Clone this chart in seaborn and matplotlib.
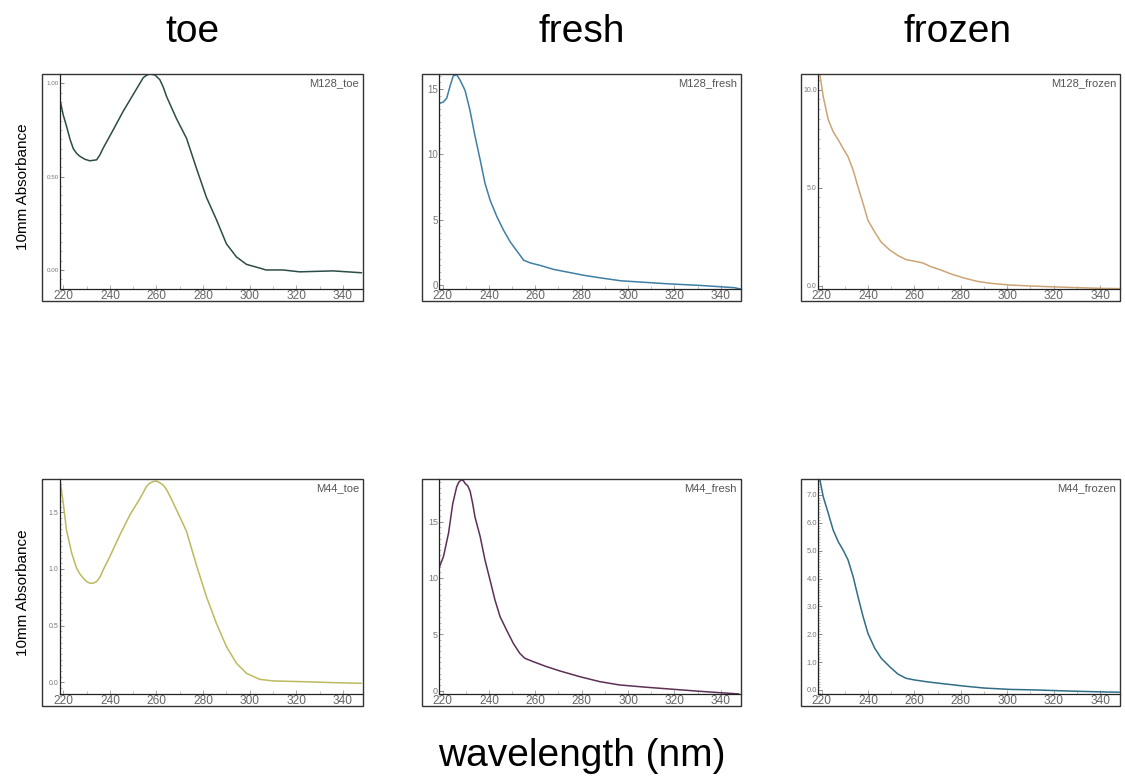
import numpy as np
import pandas as pd
import matplotlib
matplotlib.use('Agg')
import matplotlib.pyplot as plt
import seaborn as sns
from matplotlib.patches import Rectangle
from matplotlib.ticker import MultipleLocator, FormatStrFormatter

# --- data (wavelength nm, 10mm absorbance) ---

wl_m128_toe = [218.6, 220.0, 221.4, 222.9, 224.3, 225.7, 227.0, 229.3, 231.4, 234.3, 235.7, 237.0,
               241.4, 245.7, 250.0, 254.3, 255.7, 257.0, 259.3, 261.4, 262.9, 264.3, 268.6, 272.9,
               277.0, 281.4, 285.7, 290.0, 294.3, 298.6, 304.3, 307.0, 314.3, 321.4, 335.7, 348.0]
ab_m128_toe = [0.91, 0.83, 0.77, 0.70, 0.65, 0.625, 0.61, 0.593, 0.585, 0.59, 0.616, 0.65,
               0.75, 0.85, 0.94, 1.03, 1.043, 1.05, 1.045, 1.02, 0.98, 0.93, 0.81, 0.705,
               0.55, 0.39, 0.27, 0.14, 0.07, 0.03, 0.01, 0.0, 0.0, -0.01, -0.005, -0.015]

wl_m128_fresh = [218.6, 220.3, 221.8, 223.2, 224.6, 226.1, 227.5, 229.7, 231.8, 234.0, 236.2, 238.3,
                 240.5, 243.4, 246.3, 249.2, 252.1, 255.0, 257.8, 262.2, 267.9, 273.7, 280.9, 288.1,
                 296.8, 305.5, 317.0, 331.5, 345.9, 348.6]
ab_m128_fresh = [13.9, 14.0, 14.3, 15.2, 16.0, 16.1, 15.7, 14.9, 13.4, 11.4, 9.6, 7.8,
                 6.5, 5.25, 4.2, 3.3, 2.6, 1.9, 1.7, 1.5, 1.2, 1.0, 0.75, 0.55,
                 0.33, 0.23, 0.1, -0.03, -0.2, -0.3]

wl_m128_frozen = [219.3, 220.7, 222.9, 225.0, 227.2, 229.3, 231.4, 233.6, 235.7, 237.9, 240.0, 242.9,
                  245.7, 249.3, 252.9, 256.4, 260.0, 263.6, 267.1, 271.4, 275.7, 281.4, 287.1, 292.9,
                  301.4, 312.9, 327.1, 341.4, 348.3]
ab_m128_frozen = [10.77, 9.66, 8.46, 7.86, 7.44, 7.0, 6.58, 5.9, 5.04, 4.19, 3.33, 2.74,
                  2.22, 1.83, 1.54, 1.33, 1.25, 1.16, 0.97, 0.8, 0.6, 0.39, 0.22, 0.12,
                  0.03, -0.03, -0.09, -0.14, -0.15]

wl_m44_toe = [218.6, 220.0, 221.4, 223.6, 225.7, 227.1, 228.6, 230.0, 231.4, 232.9, 234.3, 235.7,
              237.1, 240.0, 244.3, 248.6, 252.9, 255.7, 257.1, 258.6, 260.0, 261.4, 262.9, 264.3,
              266.4, 268.6, 272.9, 277.1, 281.4, 285.7, 290.0, 294.3, 298.6, 304.3, 310.0, 321.4,
              335.7, 347.9]
ab_m44_toe = [1.785, 1.58, 1.34, 1.14, 1.006, 0.956, 0.918, 0.888, 0.874, 0.874, 0.888, 0.926,
              0.99, 1.109, 1.3, 1.476, 1.62, 1.726, 1.756, 1.77, 1.774, 1.76, 1.738, 1.7,
              1.615, 1.52, 1.33, 1.035, 0.756, 0.52, 0.315, 0.168, 0.079, 0.026, 0.012, 0.006,
              -0.003, -0.009]

wl_m44_fresh = [218.7, 220.4, 222.6, 224.4, 226.1, 227.0, 228.0, 229.0, 229.7, 230.9, 231.9, 233.0,
                234.0, 236.2, 238.3, 240.5, 242.6, 244.8, 247.6, 250.5, 253.3, 255.5, 259.1, 264.8,
                270.5, 279.1, 287.7, 296.3, 307.7, 319.2, 330.7, 339.2, 347.8]
ab_m44_fresh = [11.0, 11.9, 14.0, 16.6, 18.1, 18.5, 18.7, 18.64, 18.4, 18.17, 17.7, 16.6,
                15.4, 13.7, 11.6, 9.8, 8.05, 6.57, 5.38, 4.2, 3.31, 2.87, 2.57, 2.13,
                1.75, 1.24, 0.8, 0.5, 0.3, 0.12, -0.06, -0.18, -0.3]

wl_m44_frozen = [219.3, 220.7, 222.9, 225.0, 227.2, 229.3, 231.4, 233.6, 235.7, 237.9, 240.0, 242.9,
                 245.7, 249.3, 252.9, 256.4, 260.0, 265.7, 272.9, 281.4, 290.0, 301.4, 312.9, 327.1,
                 341.4, 348.3]
ab_m44_frozen = [7.54, 6.94, 6.34, 5.74, 5.32, 5.02, 4.67, 4.07, 3.35, 2.63, 2.03, 1.5,
                 1.14, 0.84, 0.57, 0.42, 0.36, 0.29, 0.22, 0.14, 0.07, 0.02, 0.0, -0.04,
                 -0.07, -0.08]

col_titles = ['toe', 'fresh', 'frozen']
x_ticks = [220, 240, 260, 280, 300, 320, 340]

# panel setup: (row, col, label, x, y, color, ylim, ytick step, tick fmt, tick fontsize)
panels = [
    (0, 0, 'M128_toe', wl_m128_toe, ab_m128_toe, '#2c4c47', (-0.102, 1.05), 0.5, '%.2f', 4.5),
    (0, 1, 'M128_fresh', wl_m128_fresh, ab_m128_fresh, '#3e7fa6', (-0.3, 16.15), 5, '%d', 7),
    (0, 2, 'M128_frozen', wl_m128_frozen, ab_m128_frozen, '#cca574', (-0.17, 10.8), 5, '%.1f', 5),
    (1, 0, 'M44_toe', wl_m44_toe, ab_m44_toe, '#bcba5e', (-0.106, 1.79), 0.5, '%.1f', 5),
    (1, 1, 'M44_fresh', wl_m44_fresh, ab_m44_fresh, '#5c3055', (-0.33, 18.76), 5, '%d', 6.5),
    (1, 2, 'M44_frozen', wl_m44_frozen, ab_m44_frozen, '#2f6e86', (-0.155, 7.56), 1, '%.1f', 5.5),
]

sns.set_style('white')
plt.rcParams['font.family'] = ['Liberation Sans', 'DejaVu Sans']

W, H = 1125, 781
fig = plt.figure(figsize=(W / 100, H / 100), dpi=100)

# pixel geometry of the boxes
ax_left = [60, 439.3, 818.3]
ax_right = [363, 740.7, 1120]
frame_left = [42.3, 421.7, 800.7]
ax_top = [74, 479.3]
ax_bottom = [289, 694.3]
frame_bottom = [300.5, 706]

for row, col, label, x, y, color, ylim, ystep, fmt, yfs in panels:
    l, r = ax_left[col], ax_right[col]
    t, b = ax_top[row], ax_bottom[row]
    ax = fig.add_axes([l / W, 1 - b / H, (r - l) / W, (b - t) / H])
    df = pd.DataFrame({'wavelength': x, 'absorbance': y})
    sns.lineplot(data=df, x='wavelength', y='absorbance', ax=ax, color=color, linewidth=1.1)
    ax.set_xlim(218.6, 348.6)
    ax.set_ylim(*ylim)
    ax.set_xlabel('')
    ax.set_ylabel('')
    ax.set_xticks(x_ticks)
    ax.xaxis.set_minor_locator(MultipleLocator(10))
    ax.yaxis.set_major_locator(MultipleLocator(ystep))
    ax.yaxis.set_minor_locator(MultipleLocator(ystep / 10))
    ax.yaxis.set_major_formatter(FormatStrFormatter(fmt))
    ax.tick_params(bottom=True, left=True, which='both')
    ax.tick_params(axis='x', which='major', direction='in', length=3, width=0.6, color='#999999',
                   labelsize=8.6, labelcolor='#666666', pad=0.5)
    ax.tick_params(axis='x', which='minor', direction='in', length=2, width=0.5, color='#aaaaaa')
    ax.tick_params(axis='y', which='major', direction='in', length=3, width=0.6, color='#777777',
                   labelsize=yfs, labelcolor='#777777', pad=1)
    ax.tick_params(axis='y', which='minor', direction='in', length=1.5, width=0.4, color='#888888')
    for s in ['top', 'right']:
        ax.spines[s].set_visible(False)
    for s in ['left', 'bottom']:
        ax.spines[s].set_visible(True)
        ax.spines[s].set_color('#222222')
        ax.spines[s].set_linewidth(0.9)
    ax.text(0.987, 0.982, label, transform=ax.transAxes, ha='right', va='top',
            fontsize=8, color='#555555')

    # outer frame around plot and its tick labels
    fl, fb = frame_left[col], frame_bottom[row]
    fig.add_artist(Rectangle((fl / W, 1 - fb / H), (r - fl) / W, (fb - t) / H,
                             transform=fig.transFigure, fill=False, lw=1.0, edgecolor='#333333'))

title_x = [192, 582, 958]
for tx, name in zip(title_x, col_titles):
    fig.text(tx / W, 1 - 42 / H, name, ha='center', va='baseline', fontsize=28, color='black')

for cy in [187, 593]:
    fig.text(23 / W, 1 - cy / H, '10mm Absorbance', rotation=90, ha='center', va='center',
             fontsize=11, color='black')

fig.text(582 / W, 1 - 766 / H, 'wavelength (nm)', ha='center', va='baseline', fontsize=28,
         color='black')

fig.savefig('out.png', dpi=100, facecolor='white')
